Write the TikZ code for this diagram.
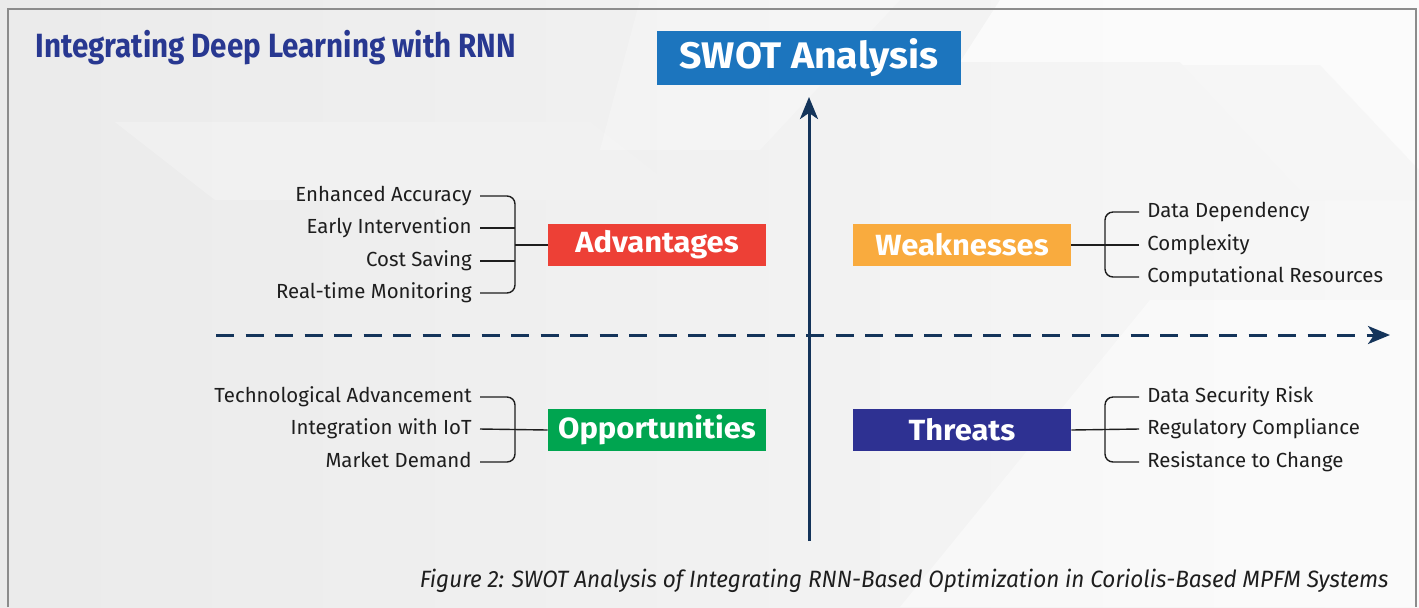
\documentclass[tikz,border=0pt]{standalone}
\usepackage{fontspec}
\setmainfont{Fira Sans}
\newfontfamily\headfont[FakeStretch=0.88]{Fira Sans}
\newfontfamily\capfont[FakeStretch=0.955]{Fira Sans}
\newfontfamily\boxfont[FakeStretch=1.06]{Fira Sans}
\usetikzlibrary{positioning, calc, arrows.meta}

\definecolor{titleblue}{RGB}{40,56,145}
\definecolor{swotblue}{RGB}{28,117,190}
\definecolor{advred}{RGB}{237,64,54}
\definecolor{weakorange}{RGB}{249,171,62}
\definecolor{oppgreen}{RGB}{0,165,80}
\definecolor{threatnavy}{RGB}{46,49,146}
\definecolor{axisblue}{RGB}{20,52,90}
\definecolor{itemgray}{RGB}{30,30,30}

\begin{document}
\begin{tikzpicture}[x=0.5pt, y=-0.5pt,
  quad/.style={rectangle, minimum width=109pt, minimum height=21pt,
    inner sep=0pt, text=white, font=\boxfont\fontsize{14.6}{16}\selectfont\bfseries},
  item/.style={inner sep=0pt, text=itemgray, text height=7pt, text depth=1.8pt,
    font=\fontsize{10.2}{12}\selectfont},
  brace/.style={draw=itemgray, line width=0.7pt, rounded corners=4pt},
  axis/.style={draw=axisblue, line width=1.5pt,
    -{Stealth[length=11pt, width=9pt, inset=3pt]}}]

  % background
  \useasboundingbox (0,0) rectangle (1419,607);
  \shade[left color=black!8, right color=black!3] (0,0) rectangle (1419,607);
  \fill[black!5, opacity=0.8] (115,122) -- (590,122) -- (690,200) -- (215,200) -- cycle;
  \fill[white, opacity=0.6] (1000,0) -- (1419,0) -- (1419,190) -- (1300,190) -- (1180,62) -- (960,62) -- cycle;
  \fill[white, opacity=0.45] (1150,300) -- (1419,300) -- (1419,607) -- (900,607) -- cycle;
  \fill[black!4, opacity=0.7] (1020,65) -- (1320,65) -- (1419,170) -- (1419,200) -- (1110,200) -- cycle;
  \fill[white, opacity=0.25] (640,0) -- (900,0) -- (760,150) -- (600,150) -- cycle;
  \draw[black!45, line width=0.6pt] (8,607) -- (8,9) -- (1416,9) -- (1416,607);

  % title and caption
  \node[anchor=base west, inner sep=0pt, text=titleblue,
    font=\headfont\fontsize{16.8}{18}\selectfont\bfseries] (title) at (35,57)
    {Integrating Deep Learning with RNN};
  \node[anchor=base east, inner sep=0pt, text=itemgray,
    font=\capfont\fontsize{11.8}{13}\selectfont\itshape] (caption) at (1389,587)
    {Figure 2: SWOT Analysis of Integrating RNN-Based Optimization in Coriolis-Based MPFM Systems};

  % axes
  \node[rectangle, fill=swotblue, minimum width=152pt, minimum height=27pt, inner sep=0pt,
    text=white, font=\boxfont\fontsize{18.5}{20}\selectfont\bfseries] (swot) at (809,58) {SWOT Analysis};
  \coordinate (vbot) at (809,541);
  \coordinate (vtop) at (809,97);
  \coordinate (hl) at (216,335);
  \coordinate (hr) at (1390,335);
  \draw[axis] (vbot) -- (vtop);
  \draw[axis, dash pattern=on 9pt off 5.75pt] (hl) -- (hr);

  % quadrants
  \node[quad, fill=advred] (adv) at (657,245) {Advantages};
  \node[quad, fill=weakorange] (weak) at (962,245) {Weaknesses};
  \node[quad, fill=oppgreen] (opp) at (657,430) {Opportunities};
  \node[quad, fill=threatnavy] (thr) at (962,430) {Threats};

  % advantages
  \node[item, anchor=east] (ea) at (472,196) {Enhanced Accuracy};
  \node[item, anchor=east] (ei) at (472,228) {Early Intervention};
  \node[item, anchor=east] (cs) at (472,261) {Cost Saving};
  \node[item, anchor=east] (rm) at (472,293) {Real-time Monitoring};
  \coordinate (bl) at (515,245);
  \draw[brace] ([xshift=4pt]ea.east) -- (ea.east -| bl) |- ([xshift=4pt]rm.east);
  \draw[brace] ([xshift=4pt]ei.east) -- (ei.east -| bl);
  \draw[brace] ([xshift=4pt]cs.east) -- (cs.east -| bl);
  \draw[brace] (bl) -- (adv.west);

  % weaknesses
  \node[item, anchor=west] (dd) at (1147,212) {Data Dependency};
  \node[item, anchor=west] (cx) at (1147,245) {Complexity};
  \node[item, anchor=west] (cr) at (1147,277) {Computational Resources};
  \coordinate (br) at (1105,245);
  \draw[brace] ([xshift=-4pt]dd.west) -- (dd.west -| br) |- ([xshift=-4pt]cr.west);
  \draw[brace] (weak.east) -- ([xshift=-4pt]cx.west);

  % opportunities
  \node[item, anchor=east] (ta) at (472,397) {Technological Advancement};
  \node[item, anchor=east] (ii) at (472,429) {Integration with IoT};
  \node[item, anchor=east] (md) at (472,462) {Market Demand};
  \coordinate (bo) at (515,430);
  \draw[brace] ([xshift=4pt]ta.east) -- (ta.east -| bo) |- ([xshift=4pt]md.east);
  \draw[brace] ([xshift=4pt]ii.east) -- (opp.west);

  % threats
  \node[item, anchor=west] (ds) at (1147,397) {Data Security Risk};
  \node[item, anchor=west] (rc) at (1147,429) {Regulatory Compliance};
  \node[item, anchor=west] (rtc) at (1147,462) {Resistance to Change};
  \coordinate (bt) at (1105,430);
  \draw[brace] ([xshift=-4pt]ds.west) -- (ds.west -| bt) |- ([xshift=-4pt]rtc.west);
  \draw[brace] (thr.east) -- ([xshift=-4pt]rc.west);
\end{tikzpicture}
\end{document}
